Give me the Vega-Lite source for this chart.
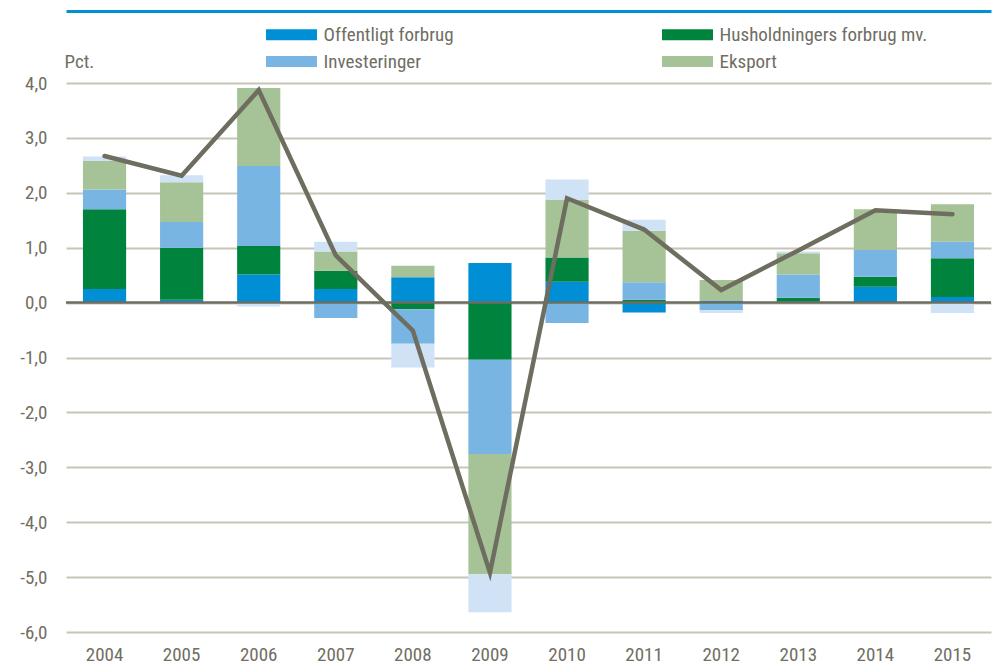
{
  "$schema": "https://vega.github.io/schema/vega-lite/v6.json",
  "width": 925,
  "height": 549,
  "autosize": {"type": "none"},
  "padding": {"left": 66, "top": 83, "right": 7, "bottom": 33},
  "background": "white",
  "datasets": {
    "parts": [
      {"year": "2004", "serie": "Offentligt forbrug", "k": 1, "value": 0.25},
      {"year": "2004", "serie": "Husholdningers forbrug mv.", "k": 2, "value": 1.45},
      {"year": "2004", "serie": "Investeringer", "k": 3, "value": 0.36},
      {"year": "2004", "serie": "Eksport", "k": 4, "value": 0.52},
      {"year": "2004", "serie": "Lagerinvesteringer", "k": 5, "value": 0.08},
      {"year": "2005", "serie": "Offentligt forbrug", "k": 1, "value": 0.05},
      {"year": "2005", "serie": "Husholdningers forbrug mv.", "k": 2, "value": 0.95},
      {"year": "2005", "serie": "Investeringer", "k": 3, "value": 0.47},
      {"year": "2005", "serie": "Eksport", "k": 4, "value": 0.72},
      {"year": "2005", "serie": "Lagerinvesteringer", "k": 5, "value": 0.13},
      {"year": "2006", "serie": "Offentligt forbrug", "k": 1, "value": 0.51},
      {"year": "2006", "serie": "Husholdningers forbrug mv.", "k": 2, "value": 0.52},
      {"year": "2006", "serie": "Investeringer", "k": 3, "value": 1.46},
      {"year": "2006", "serie": "Eksport", "k": 4, "value": 1.42},
      {"year": "2006", "serie": "Lagerinvesteringer", "k": 5, "value": -0.07},
      {"year": "2007", "serie": "Offentligt forbrug", "k": 1, "value": 0.25},
      {"year": "2007", "serie": "Husholdningers forbrug mv.", "k": 2, "value": 0.33},
      {"year": "2007", "serie": "Investeringer", "k": 3, "value": -0.28},
      {"year": "2007", "serie": "Eksport", "k": 4, "value": 0.35},
      {"year": "2007", "serie": "Lagerinvesteringer", "k": 5, "value": 0.18},
      {"year": "2008", "serie": "Offentligt forbrug", "k": 1, "value": 0.46},
      {"year": "2008", "serie": "Husholdningers forbrug mv.", "k": 2, "value": -0.12},
      {"year": "2008", "serie": "Investeringer", "k": 3, "value": -0.63},
      {"year": "2008", "serie": "Eksport", "k": 4, "value": 0.21},
      {"year": "2008", "serie": "Lagerinvesteringer", "k": 5, "value": -0.43},
      {"year": "2009", "serie": "Offentligt forbrug", "k": 1, "value": 0.72},
      {"year": "2009", "serie": "Husholdningers forbrug mv.", "k": 2, "value": -1.04},
      {"year": "2009", "serie": "Investeringer", "k": 3, "value": -1.72},
      {"year": "2009", "serie": "Eksport", "k": 4, "value": -2.19},
      {"year": "2009", "serie": "Lagerinvesteringer", "k": 5, "value": -0.69},
      {"year": "2010", "serie": "Offentligt forbrug", "k": 1, "value": 0.38},
      {"year": "2010", "serie": "Husholdningers forbrug mv.", "k": 2, "value": 0.44},
      {"year": "2010", "serie": "Investeringer", "k": 3, "value": -0.37},
      {"year": "2010", "serie": "Eksport", "k": 4, "value": 1.05},
      {"year": "2010", "serie": "Lagerinvesteringer", "k": 5, "value": 0.37},
      {"year": "2011", "serie": "Offentligt forbrug", "k": 1, "value": -0.18},
      {"year": "2011", "serie": "Husholdningers forbrug mv.", "k": 2, "value": 0.05},
      {"year": "2011", "serie": "Investeringer", "k": 3, "value": 0.32},
      {"year": "2011", "serie": "Eksport", "k": 4, "value": 0.94},
      {"year": "2011", "serie": "Lagerinvesteringer", "k": 5, "value": 0.2},
      {"year": "2012", "serie": "Offentligt forbrug", "k": 1, "value": 0.04},
      {"year": "2012", "serie": "Husholdningers forbrug mv.", "k": 2, "value": -0.01},
      {"year": "2012", "serie": "Investeringer", "k": 3, "value": -0.13},
      {"year": "2012", "serie": "Eksport", "k": 4, "value": 0.37},
      {"year": "2012", "serie": "Lagerinvesteringer", "k": 5, "value": -0.05},
      {"year": "2013", "serie": "Offentligt forbrug", "k": 1, "value": 0.03},
      {"year": "2013", "serie": "Husholdningers forbrug mv.", "k": 2, "value": 0.06},
      {"year": "2013", "serie": "Investeringer", "k": 3, "value": 0.42},
      {"year": "2013", "serie": "Eksport", "k": 4, "value": 0.39},
      {"year": "2013", "serie": "Lagerinvesteringer", "k": 5, "value": 0.03},
      {"year": "2014", "serie": "Offentligt forbrug", "k": 1, "value": 0.29},
      {"year": "2014", "serie": "Husholdningers forbrug mv.", "k": 2, "value": 0.18},
      {"year": "2014", "serie": "Investeringer", "k": 3, "value": 0.49},
      {"year": "2014", "serie": "Eksport", "k": 4, "value": 0.74},
      {"year": "2014", "serie": "Lagerinvesteringer", "k": 5, "value": 0.0},
      {"year": "2015", "serie": "Offentligt forbrug", "k": 1, "value": 0.1},
      {"year": "2015", "serie": "Husholdningers forbrug mv.", "k": 2, "value": 0.71},
      {"year": "2015", "serie": "Investeringer", "k": 3, "value": 0.3},
      {"year": "2015", "serie": "Eksport", "k": 4, "value": 0.68},
      {"year": "2015", "serie": "Lagerinvesteringer", "k": 5, "value": -0.19}
    ],
    "total": [
      {"year": "2004", "bnp": 2.67},
      {"year": "2005", "bnp": 2.31},
      {"year": "2006", "bnp": 3.87},
      {"year": "2007", "bnp": 0.86},
      {"year": "2008", "bnp": -0.51},
      {"year": "2009", "bnp": -4.92},
      {"year": "2010", "bnp": 1.9},
      {"year": "2011", "bnp": 1.33},
      {"year": "2012", "bnp": 0.23},
      {"year": "2013", "bnp": 0.95},
      {"year": "2014", "bnp": 1.68},
      {"year": "2015", "bnp": 1.61}
    ]
  },
  "layer": [
    {
      "data": {"name": "parts"},
      "mark": {"type": "bar"},
      "encoding": {
        "x": {
          "field": "year", "type": "ordinal",
          "scale": {"paddingInner": 0.44, "paddingOuter": 0.22},
          "axis": {
            "title": null, "ticks": false, "domain": false, "grid": false,
            "labelAngle": 0, "labelPadding": 13, "labelFontSize": 19,
            "labelColor": "#6f6e63", "labelFont": "Liberation Sans Narrow, Arial Narrow, Roboto Condensed, DejaVu Sans Condensed, sans-serif"
          }
        },
        "y": {
          "field": "value", "type": "quantitative", "stack": "zero",
          "scale": {"domain": [-6, 4], "nice": false, "zero": false},
          "axis": {
            "title": "Pct.", "titleAngle": 0, "titleAlign": "left", "titleBaseline": "middle",
            "titleX": -2, "titleY": -22, "titleFontSize": 19, "titleFontWeight": "normal",
            "titleColor": "#6f6e63", "titleFont": "Liberation Sans Narrow, Arial Narrow, Roboto Condensed, DejaVu Sans Condensed, sans-serif",
            "values": [-6, -5, -4, -3, -2, -1, 0, 1, 2, 3, 4],
            "format": ".1f", "ticks": false, "domain": false,
            "labelPadding": 19, "labelFontSize": 19, "labelColor": "#6f6e63",
            "labelFont": "Liberation Sans Narrow, Arial Narrow, Roboto Condensed, DejaVu Sans Condensed, sans-serif",
            "grid": true, "gridColor": "#c6c5b8", "gridWidth": 1.8
          }
        },
        "color": {
          "field": "serie", "type": "nominal",
          "scale": {
            "domain": ["Offentligt forbrug", "Husholdningers forbrug mv.", "Investeringer", "Eksport", "Lagerinvesteringer"],
            "range": ["#008fd5", "#00843d", "#79b5e3", "#a6c297", "#cfe2f6"]
          },
          "legend": {
            "values": ["Offentligt forbrug", "Husholdningers forbrug mv.", "Investeringer", "Eksport"],
            "title": null, "orient": "none", "legendX": 216, "legendY": -58,
            "direction": "horizontal",
            "columns": 2, "columnPadding": 208, "rowPadding": 7,
            "symbolType": "M-5,-1.08H5V1.08H-5Z", "symbolSize": 104,
            "symbolStrokeWidth": 0, "symbolOpacity": 1,
            "labelOffset": 22.5, "labelFontSize": 19, "labelColor": "#6f6e63",
            "labelFont": "Liberation Sans Narrow, Arial Narrow, Roboto Condensed, DejaVu Sans Condensed, sans-serif",
            "labelLimit": 400
          }
        },
        "order": {"field": "k", "type": "quantitative"}
      }
    },
    {
      "data": {"values": [{}]},
      "mark": {"type": "rule", "color": "#6e6d5f", "strokeWidth": 2.5},
      "encoding": {"y": {"datum": 0}}
    },
    {
      "data": {"name": "total"},
      "mark": {"type": "line", "color": "#6e6d5f", "strokeWidth": 4.5, "strokeCap": "round"},
      "encoding": {
        "x": {
          "field": "year", "type": "ordinal",
          "axis": {
            "orient": "top", "offset": 72, "title": null, "labels": false, "ticks": false,
            "grid": false, "domain": true, "domainColor": "#0090d4", "domainWidth": 3
          }
        },
        "y": {"field": "bnp", "type": "quantitative"}
      }
    }
  ],
  "resolve": {"axis": {"x": "independent"}},
  "config": {
    "view": {"stroke": null},
    "locale": {
      "number": {"decimal": ",", "thousands": ".", "grouping": [3], "currency": ["", " kr."], "minus": "-"}
    }
  }
}
